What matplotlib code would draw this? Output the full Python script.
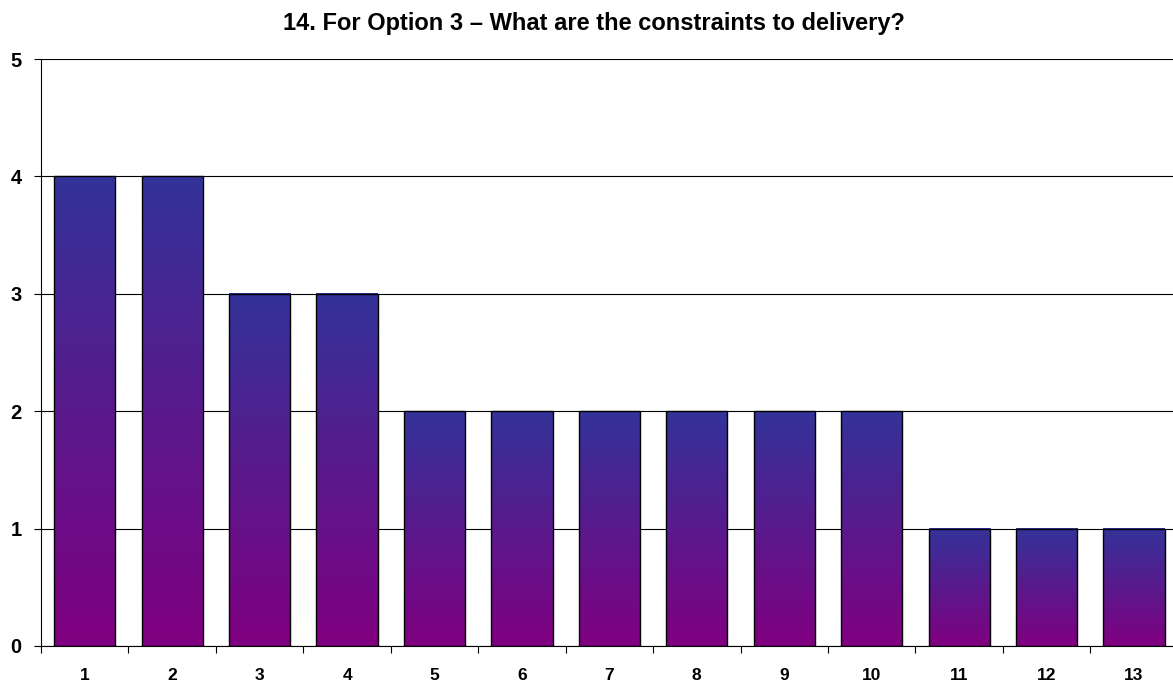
import matplotlib.pyplot as plt
import numpy as np
from matplotlib.colors import LinearSegmentedColormap

# 数据
categories = ['1', '2', '3', '4', '5', '6', '7', '8', '9', '10', '11', '12', '13']
values = [4, 4, 3, 3, 2, 2, 2, 2, 2, 2, 1, 1, 1]
title = '14. For Option 3 – What are the constraints to delivery?'

plt.rcParams['font.family'] = ['Liberation Sans', 'DejaVu Sans']

fig = plt.figure(figsize=(11.73, 6.84), dpi=100)
ax = fig.add_axes([0.035, 0.0556, 0.969, 0.858])

# 渐变色: 底部紫色 -> 顶部蓝色
cmap = LinearSegmentedColormap.from_list('grad', ['#800080', '#333399'])
grad = np.linspace(0, 1, 256).reshape(-1, 1)

x = np.arange(1, len(values) + 1)
width = 0.7
bars = ax.bar(x, values, width=width, facecolor='none', edgecolor='black', linewidth=1, zorder=3)
for b in bars:
    x0, y0 = b.get_x(), b.get_y()
    ax.imshow(grad, extent=[x0, x0 + b.get_width(), y0, y0 + b.get_height()],
              origin='lower', aspect='auto', cmap=cmap, zorder=2)

ax.set_xlim(0.5, len(values) + 0.5)
ax.set_ylim(0, 5)
ax.set_yticks(range(0, 6))
ax.yaxis.grid(True, color='black', linewidth=0.8, zorder=1)
ax.set_axisbelow(True)

# x轴: 刻度在类别之间, 标签在中间
ax.set_xticks(np.arange(0.5, len(values) + 1, 1))
ax.set_xticklabels([])
ax.set_xticks(x, minor=True)
ax.set_xticklabels(categories, minor=True, fontsize=12.5, fontweight='bold')
ax.tick_params(axis='x', which='major', length=5, direction='out', color='black')
ax.tick_params(axis='x', which='minor', length=0, pad=16)
ax.tick_params(axis='y', length=5, direction='out', labelsize=14.5, pad=9)
for lbl in ax.get_yticklabels():
    lbl.set_fontweight('bold')

for s in ['top', 'right']:
    ax.spines[s].set_visible(False)
ax.spines['left'].set_color('black')
ax.spines['bottom'].set_color('black')

fig.text(0.506, 0.966, title, ha='center', va='center', fontsize=17, fontweight='bold')

plt.savefig('out.png', dpi=100)
